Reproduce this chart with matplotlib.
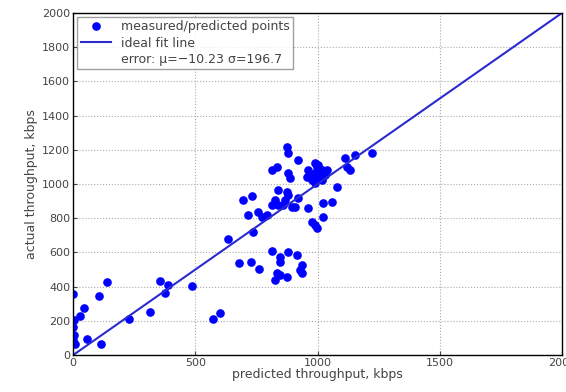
import numpy as np
from matplotlib import pyplot as plt
from matplotlib.lines import Line2D

# measured vs predicted throughput (kbps)
predicted = [0, 138, 108, 45, 29, 4, 0, 4, 0, 8, 56, 113, 230, 315, 356, 376, 390, 485,
             574, 601,
             635, 737, 976, 990, 997, 813, 847, 847, 881, 915, 935, 928, 935, 680, 727,
             762, 833, 847, 874, 826,
             874, 881, 922, 813, 833, 881, 888, 990, 990, 962, 1017, 976, 1017, 990, 956,
             1030, 997, 1112, 1153, 1222, 1119, 1133, 1078, 840, 881, 867, 826, 840, 908,
             922, 813, 962, 1024, 1058, 1024, 697, 731, 717, 758, 772, 792, 860, 874, 894,
             1000, 1010, 980, 1040, 1000]
actual = [360, 430, 345, 273, 230, 205, 162, 117, 88, 68, 94, 63, 209, 253, 435, 361, 409, 403,
          214, 247,
          677, 721, 780, 760, 741, 610, 575, 546, 604, 585, 526, 497, 478, 536, 546,
          503, 478, 468, 454, 439,
          1218, 1183, 1140, 1082, 1101, 1063, 1033, 1121, 1063, 1082, 1082, 1023, 1023, 1004, 1043,
          1053, 1101, 1150, 1170, 1183, 1101, 1082, 984, 965, 936, 906, 906, 877, 867,
          916, 877, 858, 887, 897, 809, 906, 930, 819, 838, 809, 819, 877, 955, 867,
          1040, 1090, 1050, 1080, 1110]

ideal = [0, 2000]

fig = plt.figure(figsize=(5.66, 3.92), dpi=100)
ax = fig.add_axes([0.129, 0.094, 0.864, 0.873])

ax.plot(predicted, actual, 'o', color='#0000ff', markersize=5.2, label='measured/predicted points')
ax.plot(ideal, ideal, '-', color='#2a2ad0', linewidth=1.5, label='ideal fit line')

ax.set_xlim(0, 2000)
ax.set_ylim(0, 2000)
ax.set_xticks(np.arange(0, 2001, 500))
ax.set_yticks(np.arange(0, 2001, 200))
ax.tick_params(direction='in', labelsize=8, colors='#444444', length=3, pad=2)
ax.grid(True, linestyle=':', color='#aaaaaa', linewidth=0.8)
for s in ax.spines.values():
    s.set_linewidth(1.0)

ax.set_xlabel('predicted throughput, kbps', fontsize=9, color='#444444', labelpad=0)
ax.set_ylabel('actual throughput, kbps', fontsize=9, color='#444444', labelpad=3)

handles, labels = ax.get_legend_handles_labels()
handles.append(Line2D([], [], linestyle='none'))
labels.append('error: \u03bc=\u221210.23 \u03c3=196.7')
leg = ax.legend(handles, labels, loc='upper left', fontsize=9, frameon=True, fancybox=False,
                edgecolor='#888888', handlelength=2.4, borderpad=0.3, labelspacing=0.25,
                borderaxespad=0.3)
for t in leg.get_texts():
    t.set_color('#444444')

fig.savefig('out.png', dpi=100)
